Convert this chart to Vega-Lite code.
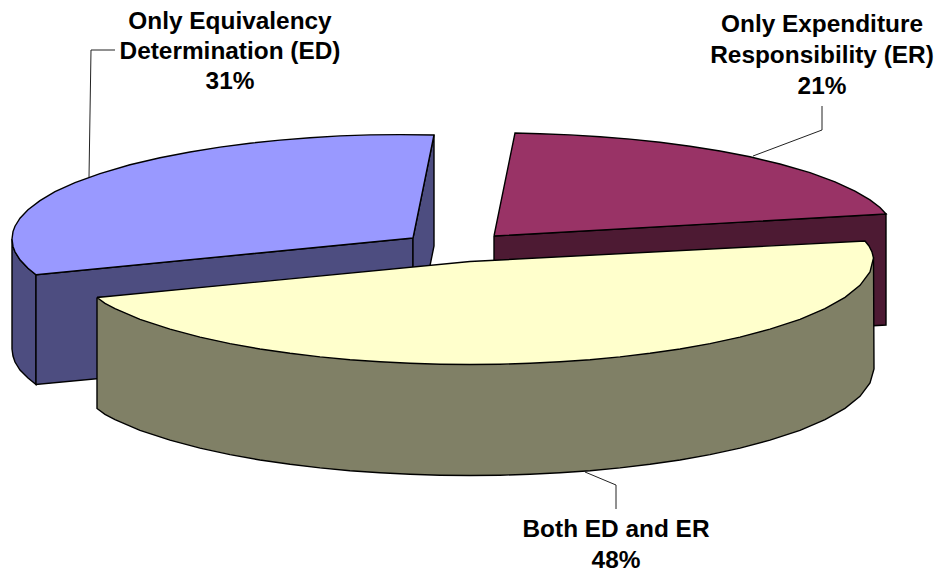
{
  "$schema": "https://vega.github.io/schema/vega-lite/v6.json",
  "autosize": {"type": "fit", "contains": "padding"},
  "width": 938,
  "height": 573,
  "padding": 0,
  "background": "#ffffff",
  "view": {"stroke": null},
  "config": {"axis": {"domain": false, "grid": false}},
  "datasets": {
    "faces": [
      {"part":"1 ED outer wall","i":0,"x":12,"y":239},{"part":"1 ED outer wall","i":1,"x":13,"y":246.4},{"part":"1 ED outer wall","i":2,"x":15,"y":251.8},{"part":"1 ED outer wall","i":3,"x":20,"y":259.8},{"part":"1 ED outer wall","i":4,"x":28,"y":268.3},{"part":"1 ED outer wall","i":5,"x":36,"y":274.7},{"part":"1 ED outer wall","i":6,"x":36,"y":384.5},{"part":"1 ED outer wall","i":7,"x":28,"y":378},{"part":"1 ED outer wall","i":8,"x":20,"y":370},{"part":"1 ED outer wall","i":9,"x":15,"y":362},{"part":"1 ED outer wall","i":10,"x":13,"y":356},{"part":"1 ED outer wall","i":11,"x":12,"y":349},{"part":"1 ED outer wall","i":12,"x":12,"y":239},
      {"part":"2 ED front wall","i":0,"x":36,"y":274.7},{"part":"2 ED front wall","i":1,"x":413,"y":238},{"part":"2 ED front wall","i":2,"x":413,"y":349},{"part":"2 ED front wall","i":3,"x":36,"y":384.5},{"part":"2 ED front wall","i":4,"x":36,"y":274.7},
      {"part":"3 ED side wall","i":0,"x":413,"y":238},{"part":"3 ED side wall","i":1,"x":434,"y":135},{"part":"3 ED side wall","i":2,"x":434,"y":246},{"part":"3 ED side wall","i":3,"x":413,"y":349},{"part":"3 ED side wall","i":4,"x":413,"y":238},
      {"part":"4 ED top","i":0,"x":413,"y":238},{"part":"4 ED top","i":1,"x":434,"y":135},{"part":"4 ED top","i":2,"x":400,"y":134.6},{"part":"4 ED top","i":3,"x":370,"y":134.9},{"part":"4 ED top","i":4,"x":340,"y":135.9},{"part":"4 ED top","i":5,"x":310,"y":137.7},{"part":"4 ED top","i":6,"x":280,"y":140.1},{"part":"4 ED top","i":7,"x":250,"y":143.2},{"part":"4 ED top","i":8,"x":220,"y":147.1},{"part":"4 ED top","i":9,"x":190,"y":152},{"part":"4 ED top","i":10,"x":160,"y":157.7},{"part":"4 ED top","i":11,"x":130,"y":164.8},{"part":"4 ED top","i":12,"x":100,"y":173.6},{"part":"4 ED top","i":13,"x":75,"y":182.7},{"part":"4 ED top","i":14,"x":55,"y":191.7},{"part":"4 ED top","i":15,"x":40,"y":200.6},{"part":"4 ED top","i":16,"x":28,"y":209.7},{"part":"4 ED top","i":17,"x":20,"y":218.2},{"part":"4 ED top","i":18,"x":15,"y":226.2},{"part":"4 ED top","i":19,"x":13,"y":231.6},{"part":"4 ED top","i":20,"x":12,"y":239},{"part":"4 ED top","i":21,"x":13,"y":246.4},{"part":"4 ED top","i":22,"x":15,"y":251.8},{"part":"4 ED top","i":23,"x":20,"y":259.8},{"part":"4 ED top","i":24,"x":28,"y":268.3},{"part":"4 ED top","i":25,"x":36,"y":274.7},{"part":"4 ED top","i":26,"x":413,"y":238},
      {"part":"5 ER wall","i":0,"x":494,"y":236},{"part":"5 ER wall","i":1,"x":886,"y":214},{"part":"5 ER wall","i":2,"x":886,"y":325},{"part":"5 ER wall","i":3,"x":494,"y":347},{"part":"5 ER wall","i":4,"x":494,"y":236},
      {"part":"6 ER top","i":0,"x":494,"y":236},{"part":"6 ER top","i":1,"x":515,"y":133},{"part":"6 ER top","i":2,"x":540,"y":133.7},{"part":"6 ER top","i":3,"x":570,"y":134.9},{"part":"6 ER top","i":4,"x":600,"y":136.7},{"part":"6 ER top","i":5,"x":630,"y":139.1},{"part":"6 ER top","i":6,"x":660,"y":142.3},{"part":"6 ER top","i":7,"x":690,"y":146.2},{"part":"6 ER top","i":8,"x":720,"y":151},{"part":"6 ER top","i":9,"x":750,"y":156.8},{"part":"6 ER top","i":10,"x":780,"y":164},{"part":"6 ER top","i":11,"x":810,"y":172.7},{"part":"6 ER top","i":12,"x":835,"y":181.8},{"part":"6 ER top","i":13,"x":855,"y":191.1},{"part":"6 ER top","i":14,"x":870,"y":199.9},{"part":"6 ER top","i":15,"x":880,"y":207.5},{"part":"6 ER top","i":16,"x":886,"y":214},{"part":"6 ER top","i":17,"x":494,"y":236},
      {"part":"7 Both wall","i":0,"x":97,"y":297.5},{"part":"7 Both wall","i":1,"x":873.5,"y":258},{"part":"7 Both wall","i":2,"x":874,"y":369},{"part":"7 Both wall","i":3,"x":870,"y":383},{"part":"7 Both wall","i":4,"x":860,"y":396.3},{"part":"7 Both wall","i":5,"x":845,"y":408.3},{"part":"7 Both wall","i":6,"x":825,"y":419.6},{"part":"7 Both wall","i":7,"x":800,"y":430.3},{"part":"7 Both wall","i":8,"x":770,"y":440.2},{"part":"7 Both wall","i":9,"x":740,"y":448.1},{"part":"7 Both wall","i":10,"x":710,"y":454.6},{"part":"7 Both wall","i":11,"x":680,"y":460},{"part":"7 Both wall","i":12,"x":650,"y":464.3},{"part":"7 Both wall","i":13,"x":620,"y":467.9},{"part":"7 Both wall","i":14,"x":590,"y":470.7},{"part":"7 Both wall","i":15,"x":560,"y":472.8},{"part":"7 Both wall","i":16,"x":530,"y":474.3},{"part":"7 Both wall","i":17,"x":500,"y":475.2},{"part":"7 Both wall","i":18,"x":470,"y":475.5},{"part":"7 Both wall","i":19,"x":440,"y":475.2},{"part":"7 Both wall","i":20,"x":410,"y":474.3},{"part":"7 Both wall","i":21,"x":380,"y":472.8},{"part":"7 Both wall","i":22,"x":350,"y":470.7},{"part":"7 Both wall","i":23,"x":320,"y":467.9},{"part":"7 Both wall","i":24,"x":290,"y":464.3},{"part":"7 Both wall","i":25,"x":260,"y":460},{"part":"7 Both wall","i":26,"x":230,"y":454.6},{"part":"7 Both wall","i":27,"x":200,"y":448.1},{"part":"7 Both wall","i":28,"x":170,"y":440.2},{"part":"7 Both wall","i":29,"x":140,"y":430.3},{"part":"7 Both wall","i":30,"x":115,"y":419.6},{"part":"7 Both wall","i":31,"x":105,"y":414.4},{"part":"7 Both wall","i":32,"x":97,"y":408.5},{"part":"7 Both wall","i":33,"x":97,"y":297.5},
      {"part":"8 Both top","i":0,"x":97,"y":297.5},{"part":"8 Both top","i":1,"x":470,"y":261.5},{"part":"8 Both top","i":2,"x":865,"y":241},{"part":"8 Both top","i":3,"x":869,"y":246},{"part":"8 Both top","i":4,"x":872,"y":252},{"part":"8 Both top","i":5,"x":873.5,"y":258},{"part":"8 Both top","i":6,"x":870,"y":272},{"part":"8 Both top","i":7,"x":860,"y":285.3},{"part":"8 Both top","i":8,"x":845,"y":297.3},{"part":"8 Both top","i":9,"x":825,"y":308.6},{"part":"8 Both top","i":10,"x":800,"y":319.3},{"part":"8 Both top","i":11,"x":770,"y":329.2},{"part":"8 Both top","i":12,"x":740,"y":337.1},{"part":"8 Both top","i":13,"x":710,"y":343.6},{"part":"8 Both top","i":14,"x":680,"y":349},{"part":"8 Both top","i":15,"x":650,"y":353.3},{"part":"8 Both top","i":16,"x":620,"y":356.9},{"part":"8 Both top","i":17,"x":590,"y":359.7},{"part":"8 Both top","i":18,"x":560,"y":361.8},{"part":"8 Both top","i":19,"x":530,"y":363.3},{"part":"8 Both top","i":20,"x":500,"y":364.2},{"part":"8 Both top","i":21,"x":470,"y":364.5},{"part":"8 Both top","i":22,"x":440,"y":364.2},{"part":"8 Both top","i":23,"x":410,"y":363.3},{"part":"8 Both top","i":24,"x":380,"y":361.8},{"part":"8 Both top","i":25,"x":350,"y":359.7},{"part":"8 Both top","i":26,"x":320,"y":356.9},{"part":"8 Both top","i":27,"x":290,"y":353.3},{"part":"8 Both top","i":28,"x":260,"y":349},{"part":"8 Both top","i":29,"x":230,"y":343.6},{"part":"8 Both top","i":30,"x":200,"y":337.1},{"part":"8 Both top","i":31,"x":170,"y":329.2},{"part":"8 Both top","i":32,"x":140,"y":319.3},{"part":"8 Both top","i":33,"x":115,"y":308.6},{"part":"8 Both top","i":34,"x":105,"y":303.4},{"part":"8 Both top","i":35,"x":97,"y":297.5}
    ],
    "leaders": [
      {"slice":"ED","i":0,"x":89,"y":177},{"slice":"ED","i":1,"x":91,"y":50},{"slice":"ED","i":2,"x":115,"y":50},
      {"slice":"ER","i":0,"x":753,"y":156},{"slice":"ER","i":1,"x":822,"y":130},{"slice":"ER","i":2,"x":822,"y":106},
      {"slice":"Both","i":0,"x":585,"y":472},{"slice":"Both","i":1,"x":616,"y":485},{"slice":"Both","i":2,"x":616,"y":509}
    ],
    "labels": [
      {"text":"Only Equivalency","x":230,"y":22},
      {"text":"Determination (ED)","x":230,"y":52},
      {"text":"31%","x":230,"y":82},
      {"text":"Only Expenditure","x":822,"y":25},
      {"text":"Responsibility (ER)","x":822,"y":56},
      {"text":"21%","x":822,"y":87},
      {"text":"Both ED and ER","x":616,"y":530},
      {"text":"48%","x":616,"y":561}
    ]
  },
  "encoding": {
    "x": {"field": "x", "type": "quantitative", "axis": null, "scale": {"domain": [0, 938], "nice": false, "zero": false}},
    "y": {"field": "y", "type": "quantitative", "axis": null, "scale": {"domain": [573, 0], "nice": false, "zero": false}}
  },
  "layer": [
    {
      "data": {"name": "leaders"},
      "mark": {"type": "line", "stroke": "#222222", "strokeWidth": 1},
      "encoding": {
        "detail": {"field": "slice"},
        "order": {"field": "i", "type": "quantitative"}
      }
    },
    {
      "data": {"name": "faces"},
      "mark": {"type": "line", "stroke": "#000000", "strokeWidth": 1.4, "strokeJoin": "miter"},
      "encoding": {
        "fill": {
          "field": "part",
          "type": "nominal",
          "legend": null,
          "scale": {
            "domain": ["1 ED outer wall","2 ED front wall","3 ED side wall","4 ED top","5 ER wall","6 ER top","7 Both wall","8 Both top"],
            "range": ["#4D4D80","#4D4D80","#4D4D80","#9999FF","#4D1A33","#993366","#808066","#FFFFCC"]
          }
        },
        "order": {"field": "i", "type": "quantitative"}
      }
    },
    {
      "data": {"name": "labels"},
      "mark": {"type": "text", "font": "Liberation Sans", "fontWeight": "bold", "fontSize": 24.4, "color": "#000000", "align": "center", "baseline": "middle"},
      "encoding": {"text": {"field": "text", "type": "nominal"}}
    }
  ]
}
